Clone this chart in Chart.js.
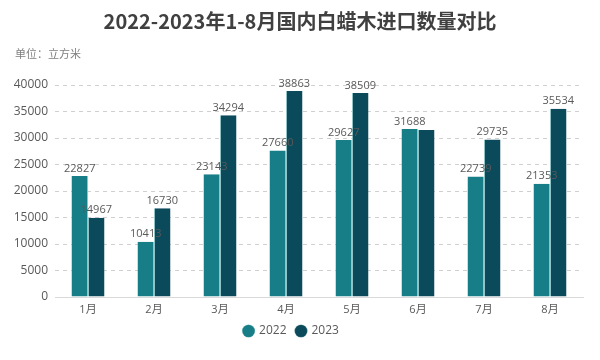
<!DOCTYPE html>
<html><head><meta charset="utf-8">
<script src="https://cdn.jsdelivr.net/npm/chart.js@4/dist/chart.umd.min.js"></script>
<style>
html,body{margin:0;padding:0;background:#fff;}
#wrap{position:relative;width:600px;height:360px;overflow:hidden;}
#title{position:absolute;left:0;top:6px;width:600px;text-align:center;font:bold 20px "Noto Sans CJK SC","Open Sans",sans-serif;color:#404040;}
#unit{position:absolute;left:15px;top:45px;font:11px "Noto Sans CJK SC",sans-serif;color:#7f7f7f;}
canvas{position:absolute;left:0;top:0;}
</style></head>
<body><div id="wrap">
<canvas id="c" width="600" height="360"></canvas>
<div id="title">2022-2023年1-8月国内白蜡木进口数量对比</div>
<div id="unit">单位：立方米</div>
</div>
<script>
const categories = ['1月','2月','3月','4月','5月','6月','7月','8月'];
const seriesNames = ['2022','2023'];
const values2022 = [22827,10413,23143,27660,29627,31688,22739,21353];
const values2023 = [14967,16730,34294,38863,38509,31500,29735,35534];
const shownLabels2023 = [true,true,true,true,true,false,true,true];
const yTicks = [0,5000,10000,15000,20000,25000,30000,35000,40000];

const font = '"Open Sans","Noto Sans CJK SC",sans-serif';
const labelPlugin = {
  id:'vals',
  afterDatasetsDraw(chart){
    const ctx = chart.ctx;
    ctx.save();
    ctx.font = '11px ' + font;
    ctx.fillStyle = '#595959';
    ctx.textAlign = 'center';
    ctx.textBaseline = 'bottom';
    chart.data.datasets.forEach((ds,di)=>{
      const meta = chart.getDatasetMeta(di);
      meta.data.forEach((bar,i)=>{
        if (di===1 && !shownLabels2023[i]) return;
        ctx.fillText(String(ds.data[i]), bar.x, bar.y - 2);
      });
    });
    ctx.restore();
  }
};

new Chart(document.getElementById('c'), {
  type:'bar',
  data:{
    labels:categories,
    datasets:[
      {label:seriesNames[0], data:values2022, backgroundColor:'#177e87', borderColor:'#8fc3c8', borderWidth:{left:0,right:1,top:0,bottom:0}},
      {label:seriesNames[1], data:values2023, backgroundColor:'#0b4a5b', borderColor:'#8fc3c8', borderWidth:{left:1,right:0,top:0,bottom:0}}
    ]
  },
  options:{
    responsive:false,
    animation:false,
    layout:{padding:{top:85,right:17,bottom:13,left:0}},
    datasets:{bar:{categoryPercentage:0.5,barPercentage:1}},
    plugins:{
      legend:{position:'bottom',labels:{usePointStyle:true,pointStyle:'circle',boxWidth:9,boxHeight:9,padding:10,color:'#595959',font:{size:12,family:font}}},
      tooltip:{enabled:false},
      title:{display:false}
    },
    scales:{
      x:{
        grid:{display:false,drawTicks:false},
        border:{display:true,color:'#d9d9d9',width:1},
        ticks:{color:'#595959',font:{size:11,family:font},padding:6},
        afterFit(s){s.height=18;}
      },
      y:{
        min:0,max:40000,
        afterBuildTicks(s){s.ticks = yTicks.map(v=>({value:v}));},
        grid:{color:'#d0d0d0',borderDash:[4,4],drawTicks:false},
        border:{display:false,dash:[4,4]},
        ticks:{color:'#595959',font:{size:12,family:font},padding:7,callback:(v)=>String(v)},
        afterFit(s){s.width=55;}
      }
    }
  },
  plugins:[labelPlugin]
});
</script>
</body></html>
